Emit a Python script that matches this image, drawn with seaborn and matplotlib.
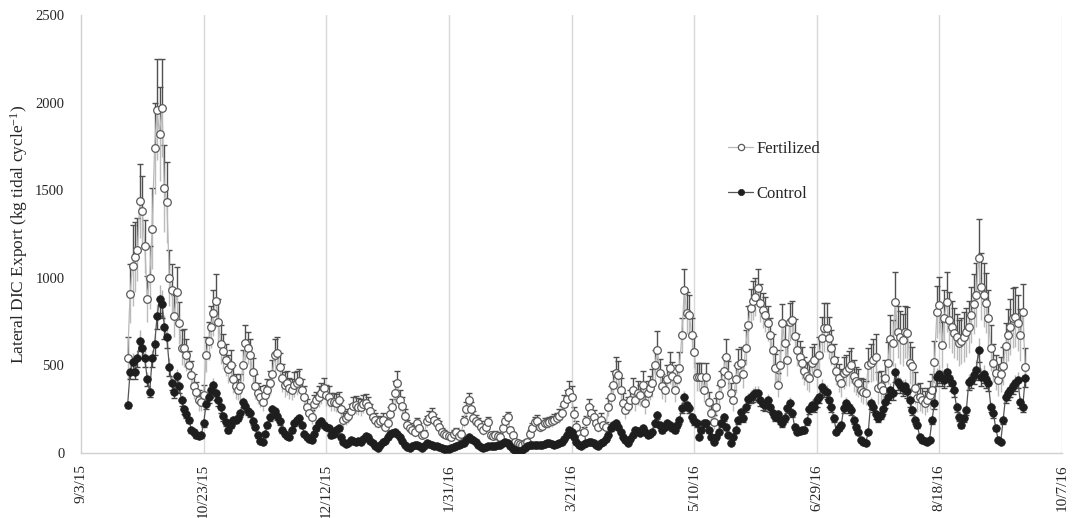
import numpy as np
import pandas as pd
import matplotlib
matplotlib.use("Agg")
import matplotlib.pyplot as plt
import matplotlib.dates as mdates
import seaborn as sns

start_date = "2015-09-22"

fertilized = [
    540, 910, 1070, 1120, 1160, 1440, 1380, 1180, 880, 1000,
    1280, 1740, 1960, 1820, 1970, 1510, 1430, 1000, 930, 780,
    920, 740, 600, 600, 560, 500, 445, 380, 348, 300,
    290, 330, 560, 640, 720, 800, 870, 750, 620, 580,
    530, 480, 500, 420, 380, 360, 380, 500, 630, 600,
    560, 460, 380, 340, 320, 290, 330, 360, 400, 450,
    560, 570, 490, 430, 390, 400, 370, 360, 390, 400,
    410, 360, 320, 260, 230, 205, 280, 300, 320, 340,
    370, 330, 320, 290, 290, 285, 300, 250, 190, 200,
    210, 240, 270, 275, 265, 260, 280, 285, 270, 240,
    205, 190, 170, 180, 190, 150, 170, 220, 260, 340,
    400, 300, 270, 210, 160, 140, 130, 120, 170, 140,
    100, 110, 180, 200, 215, 190, 170, 150, 120, 110,
    100, 95, 90, 110, 120, 95, 110, 180, 250, 300,
    250, 200, 185, 170, 150, 130, 150, 175, 100, 95,
    103, 98, 92, 140, 180, 205, 130, 100, 65, 55,
    50, 48, 55, 65, 110, 145, 175, 185, 150, 155,
    170, 170, 175, 180, 190, 200, 210, 230, 280, 310,
    350, 320, 220, 150, 110, 86, 120, 180, 260, 230,
    205, 170, 150, 188, 160, 148, 262, 320, 388, 457,
    447, 360, 285, 245, 270, 302, 360, 302, 342, 330,
    388, 285, 342, 370, 400, 500, 588, 457, 380, 360,
    420, 485, 440, 360, 420, 485, 673, 930, 799, 790,
    673, 577, 434, 434, 434, 360, 434, 290, 230, 177,
    262, 330, 400, 470, 548, 445, 342, 302, 420, 502,
    514, 450, 600, 730, 827, 870, 890, 942, 856, 816,
    790, 740, 673, 588, 485, 388, 500, 742, 628, 531,
    748, 760, 667, 588, 550, 514, 468, 440, 428, 514,
    531, 457, 560, 657, 714, 714, 657, 600, 531, 468,
    430, 400, 457, 470, 485, 502, 440, 410, 400, 360,
    350, 342, 502, 514, 530, 548, 370, 380, 360, 430,
    514, 650, 628, 862, 691, 660, 645, 691, 685, 514,
    497, 371, 314, 320, 300, 285, 302, 330, 360, 519,
    805, 845, 617, 771, 862, 760, 720, 685, 662, 628,
    640, 662, 690, 719, 788, 850, 902, 1113, 950, 902,
    856, 771, 600, 514, 457, 417, 450, 497, 610, 673,
    720, 771, 776, 742, 673, 805, 490,
]

fertilized_err = [
    120, 170, 230, 200, 180, 210, 200, 150, 130, 180,
    230, 260, 290, 270, 280, 250, 230, 160, 150, 120,
    140, 120, 100, 110, 90, 80, 80, 70, 60, 60,
    50, 60, 100, 110, 120, 130, 150, 130, 110, 100,
    90, 80, 90, 80, 70, 60, 70, 90, 100, 90,
    90, 80, 70, 60, 60, 50, 60, 60, 70, 80,
    90, 90, 80, 80, 70, 70, 60, 60, 70, 70,
    70, 60, 60, 50, 40, 40, 50, 50, 60, 60,
    60, 60, 60, 50, 50, 50, 50, 50, 40, 40,
    40, 40, 50, 50, 50, 50, 50, 50, 50, 40,
    40, 40, 30, 30, 40, 30, 30, 40, 50, 70,
    70, 60, 50, 40, 30, 30, 30, 30, 30, 30,
    20, 20, 30, 40, 40, 30, 30, 30, 20, 20,
    20, 20, 20, 20, 20, 20, 20, 30, 40, 40,
    40, 40, 30, 30, 30, 30, 30, 30, 20, 20,
    20, 20, 20, 20, 30, 30, 20, 20, 15, 10,
    10, 10, 10, 15, 20, 25, 30, 30, 30, 30,
    30, 30, 30, 30, 30, 30, 40, 40, 50, 50,
    60, 60, 40, 30, 20, 20, 30, 30, 50, 40,
    40, 30, 30, 40, 30, 30, 50, 60, 80, 90,
    80, 70, 60, 50, 50, 60, 70, 60, 70, 60,
    80, 60, 70, 70, 80, 90, 110, 80, 70, 70,
    80, 90, 80, 70, 80, 90, 100, 120, 120, 110,
    100, 90, 80, 80, 80, 70, 80, 60, 50, 40,
    50, 60, 70, 80, 100, 80, 60, 60, 80, 90,
    90, 80, 100, 110, 110, 110, 110, 110, 110, 100,
    100, 100, 100, 90, 80, 70, 90, 110, 100, 90,
    110, 110, 100, 90, 90, 90, 80, 80, 80, 90,
    90, 80, 100, 120, 140, 140, 120, 100, 90, 80,
    80, 80, 90, 90, 100, 100, 90, 80, 80, 70,
    70, 70, 100, 110, 120, 130, 90, 90, 80, 100,
    120, 140, 130, 170, 150, 150, 150, 150, 150, 120,
    110, 90, 80, 80, 70, 70, 70, 80, 90, 120,
    150, 160, 130, 160, 170, 160, 150, 140, 130, 130,
    130, 140, 140, 150, 160, 170, 180, 220, 190, 180,
    170, 160, 130, 110, 100, 90, 100, 110, 130, 150,
    160, 170, 170, 160, 150, 160, 110,
]

control = [
    275, 460, 520, 460, 540, 640, 600, 540, 420, 350,
    540, 620, 780, 880, 850, 720, 660, 490, 400, 350,
    440, 380, 300, 250, 220, 190, 130, 120, 100, 95,
    100, 170, 280, 320, 360, 390, 340, 300, 260, 210,
    175, 130, 160, 190, 190, 200, 230, 290, 270, 240,
    230, 180, 150, 100, 70, 60, 110, 160, 205, 250,
    240, 210, 180, 130, 110, 95, 90, 130, 170, 190,
    200, 160, 110, 90, 80, 75, 110, 140, 170, 180,
    160, 150, 140, 100, 110, 130, 140, 90, 65, 50,
    55, 75, 70, 65, 70, 65, 80, 95, 90, 70,
    55, 40, 30, 45, 60, 70, 90, 110, 115, 120,
    110, 90, 70, 46, 35, 30, 40, 46, 46, 40,
    30, 40, 57, 50, 46, 42, 40, 35, 29, 25,
    23, 25, 29, 35, 40, 45, 50, 57, 75, 91,
    80, 74, 60, 46, 35, 29, 35, 40, 40, 40,
    42, 44, 46, 55, 63, 55, 40, 25, 17, 10,
    6, 15, 29, 40, 46, 46, 46, 46, 46, 48,
    50, 55, 57, 52, 46, 50, 55, 63, 80, 103,
    131, 120, 91, 60, 46, 40, 50, 57, 60, 63,
    55, 45, 40, 55, 63, 80, 103, 140, 160, 171,
    150, 120, 90, 74, 57, 80, 103, 131, 125, 114,
    142, 120, 103, 110, 120, 171, 217, 160, 131, 150,
    171, 160, 142, 131, 160, 188, 257, 320, 274, 257,
    205, 180, 171, 91, 130, 171, 171, 131, 90, 63,
    90, 120, 171, 205, 150, 103, 57, 90, 131, 188,
    234, 200, 262, 308, 320, 331, 342, 342, 302, 280,
    274, 302, 262, 230, 205, 222, 190, 171, 200, 257,
    285, 230, 148, 120, 125, 131, 131, 180, 250, 274,
    262, 300, 320, 377, 360, 348, 300, 262, 200, 120,
    140, 160, 257, 285, 260, 245, 188, 150, 120, 74,
    60, 57, 120, 285, 262, 222, 200, 217, 250, 291,
    320, 360, 342, 462, 405, 390, 371, 380, 354, 300,
    245, 188, 160, 91, 74, 68, 63, 74, 188, 285,
    434, 450, 430, 417, 462, 430, 400, 360, 262, 205,
    160, 200, 245, 405, 417, 445, 474, 588, 434, 450,
    420, 400, 262, 228, 142, 74, 63, 188, 320, 340,
    360, 380, 400, 417, 291, 262, 428,
]

control_err = [
    20, 40, 50, 40, 50, 60, 55, 50, 40, 30,
    50, 60, 70, 80, 80, 70, 60, 50, 40, 35,
    40, 35, 30, 25, 20, 20, 15, 15, 12, 12,
    12, 20, 30, 35, 40, 40, 35, 30, 30, 25,
    20, 15, 20, 20, 20, 20, 25, 30, 30, 25,
    25, 20, 15, 12, 10, 8, 12, 18, 22, 25,
    25, 22, 20, 15, 12, 10, 10, 15, 18, 20,
    20, 18, 12, 10, 10, 8, 12, 15, 18, 20,
    18, 15, 15, 12, 12, 15, 15, 10, 8, 6,
    6, 8, 8, 8, 8, 8, 10, 10, 10, 8,
    6, 5, 4, 5, 6, 8, 10, 12, 12, 12,
    12, 10, 8, 5, 4, 4, 5, 5, 5, 5,
    4, 5, 6, 6, 5, 5, 5, 4, 4, 3,
    3, 3, 4, 4, 5, 5, 6, 6, 8, 10,
    8, 8, 6, 5, 4, 4, 4, 5, 5, 5,
    5, 5, 5, 6, 7, 6, 5, 3, 2, 2,
    1, 2, 3, 5, 5, 5, 5, 5, 5, 5,
    6, 6, 6, 6, 5, 6, 6, 7, 9, 12,
    15, 14, 10, 7, 5, 5, 6, 6, 7, 7,
    6, 5, 5, 6, 7, 9, 12, 16, 18, 20,
    18, 14, 10, 8, 7, 9, 12, 15, 14, 13,
    16, 14, 12, 13, 14, 20, 25, 18, 15, 17,
    20, 18, 16, 15, 18, 22, 30, 35, 30, 30,
    24, 20, 20, 10, 15, 20, 20, 15, 10, 7,
    10, 14, 20, 24, 17, 12, 7, 10, 15, 22,
    27, 23, 30, 35, 37, 38, 40, 40, 35, 32,
    32, 35, 30, 27, 24, 26, 22, 20, 23, 30,
    33, 27, 17, 14, 15, 15, 15, 21, 29, 32,
    30, 35, 37, 44, 42, 40, 35, 30, 23, 14,
    16, 19, 30, 33, 30, 28, 22, 17, 14, 9,
    7, 7, 14, 33, 30, 26, 23, 25, 29, 34,
    37, 42, 40, 54, 47, 45, 43, 44, 41, 35,
    28, 22, 19, 11, 9, 8, 7, 9, 22, 33,
    50, 52, 50, 48, 54, 50, 46, 42, 30, 24,
    19, 23, 28, 47, 48, 52, 55, 68, 50, 52,
    49, 46, 30, 26, 16, 9, 7, 22, 37, 39,
    42, 44, 46, 48, 34, 30, 50,
]

tick_dates = ["2015-09-03", "2015-10-23", "2015-12-12", "2016-01-31", "2016-03-21",
              "2016-05-10", "2016-06-29", "2016-08-18", "2016-10-07"]
y_ticks = [0, 500, 1000, 1500, 2000, 2500]

n = len(fertilized)
assert len(fertilized_err) == n and len(control) == n and len(control_err) == n

dates = pd.date_range(start_date, periods=n, freq="D")
df = pd.DataFrame({"date": dates, "Fertilized": fertilized, "Fertilized_err": fertilized_err,
                   "Control": control, "Control_err": control_err})

sns.set_style("white")
plt.rcParams["font.family"] = ["Liberation Serif", "DejaVu Serif"]
plt.rcParams["mathtext.fontset"] = "custom"
plt.rcParams["mathtext.rm"] = "Liberation Serif"
plt.rcParams["mathtext.it"] = "Liberation Serif:italic"

fig = plt.figure(figsize=(10.82, 5.18), dpi=100)
ax = fig.add_axes([0.0749, 0.1255, 0.9066, 0.8455])

xd = mdates.date2num(df["date"])
zeros = np.zeros(n)

# Fertilized error bars
ax.errorbar(xd, df["Fertilized"], yerr=[df["Fertilized_err"], zeros], fmt="none",
            ecolor="#bcbcbc", elinewidth=1.0, capsize=0, zorder=1)
ax.errorbar(xd, df["Fertilized"], yerr=[zeros, df["Fertilized_err"]], fmt="none",
            ecolor="#505050", elinewidth=1.0, capsize=2.5, capthick=1.0, zorder=2)
# Control error bars
ax.errorbar(xd, df["Control"], yerr=[zeros, df["Control_err"]], fmt="none",
            ecolor="#b5b5b5", elinewidth=1.0, capsize=0, zorder=1)
ax.errorbar(xd, df["Control"], yerr=[df["Control_err"], zeros], fmt="none",
            ecolor="#444444", elinewidth=1.0, capsize=2.5, capthick=1.0, zorder=2)

sns.lineplot(data=df, x="date", y="Fertilized", ax=ax, color="#b8b8b8", linewidth=0.9,
             marker="o", markersize=5.5, markerfacecolor="white", markeredgecolor="#5a5a5a",
             markeredgewidth=0.9, label="Fertilized", zorder=3)
sns.lineplot(data=df, x="date", y="Control", ax=ax, color="#555555", linewidth=0.9,
             marker="o", markersize=5.5, markerfacecolor="#1e1e1e", markeredgecolor="#1e1e1e",
             markeredgewidth=0.5, label="Control", zorder=4)

tks = mdates.date2num(pd.to_datetime(tick_dates))
ax.set_xlim(tks[0], tks[-1])
ax.set_ylim(0, 2500)
ax.set_xticks(tks)
ax.set_xticklabels([f"{d.month}/{d.day}/{d.year % 100}" for d in pd.to_datetime(tick_dates)],
                   rotation=90, fontsize=11)
ax.set_yticks(y_ticks)
ax.set_yticklabels([str(v) for v in y_ticks], fontsize=10.5)
ax.tick_params(axis="both", length=0)
ax.tick_params(axis="y", pad=12)
ax.tick_params(axis="x", pad=8)

for t in tks[1:]:
    ax.axvline(t, color="#d9d9d9", linewidth=1.0, zorder=0)

for s in ["top", "right"]:
    ax.spines[s].set_visible(False)
for s in ["left", "bottom"]:
    ax.spines[s].set_color("#d0d0d0")
    ax.spines[s].set_linewidth(1.0)

ax.set_xlabel("")
ax.set_ylabel(r"Lateral DIC Export (kg tidal cycle$^{-1}$)", fontsize=12.5, labelpad=4)

leg = ax.legend(loc="upper left", bbox_to_anchor=(0.653, 0.728), frameon=False,
                fontsize=12, labelspacing=1.75, handlelength=1.5, handletextpad=0.2,
                borderaxespad=0)
for line in leg.get_lines():
    line.set_markersize(4.5)

fig.savefig("out.png", dpi=100)
